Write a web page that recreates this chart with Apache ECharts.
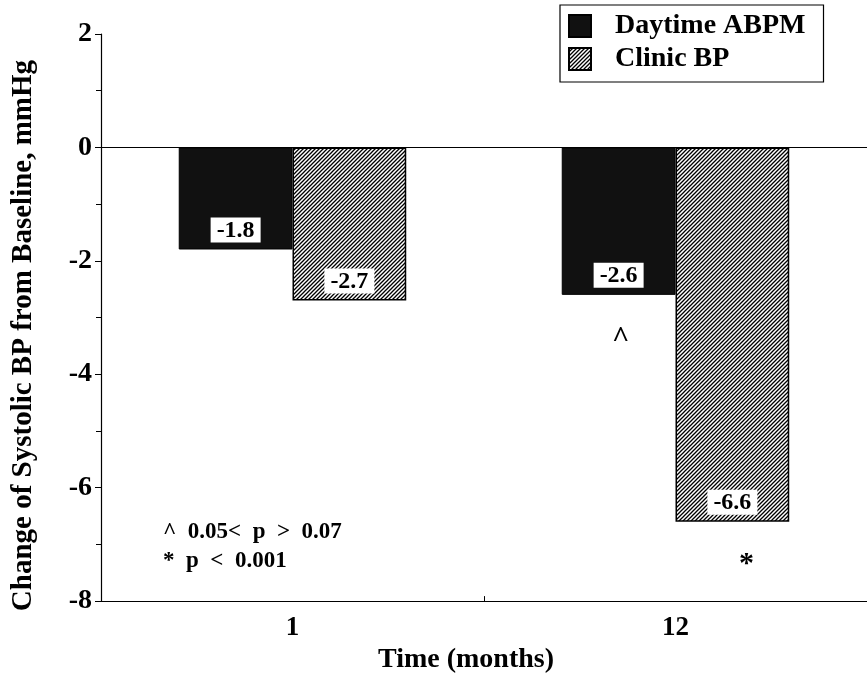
<!DOCTYPE html>
<html><head><meta charset="utf-8">
<script src="https://cdn.jsdelivr.net/npm/echarts@6/dist/echarts.min.js"></script>
<style>html,body{margin:0;padding:0;background:#fff}#c{width:867px;height:679px}</style>
</head><body><div id="c"></div>
<script>
const categories = ['1', '12'];
const daytimeABPM = [-1.8, -2.6];
const clinicBP = [-2.7, -6.6];
const yMin = -8, yMax = 2, yStep = 2;
const caretMark = ['12', -3.2];
const starMark = ['12', -7.28];
const noteLines = ['^  0.05<  p  >  0.07', '*  p  <  0.001'];

const F = '"Liberation Serif", "Times New Roman", serif';

function hatch() {
  const s = 4;
  const c = document.createElement('canvas');
  c.width = s; c.height = s;
  const g = c.getContext('2d');
  g.fillStyle = '#fff'; g.fillRect(0, 0, s, s);
  g.strokeStyle = '#000'; g.lineWidth = 1.3;
  g.beginPath();
  g.moveTo(-1, s + 1); g.lineTo(s + 1, -1);
  g.moveTo(-1, 1); g.lineTo(1, -1);
  g.moveTo(s - 1, s + 1); g.lineTo(s + 1, s - 1);
  g.stroke();
  return c;
}
const hatchPattern = { image: hatch(), repeat: 'repeat' };

const barLabel = {
  show: true, position: 'insideBottom', distance: 7,
  backgroundColor: '#fff', color: '#000', padding: [1, 6, 0, 6],
  fontFamily: F, fontWeight: 'bold', fontSize: 24
};

const chart = echarts.init(document.getElementById('c'));
chart.setOption({
  animation: false,
  backgroundColor: '#fff',
  grid: { left: 101, right: 0, top: 34, bottom: 72, containLabel: false },
  legend: {
    orient: 'vertical', left: 560, top: 5,
    padding: [7, 18, 9, 8], itemGap: 5,
    itemWidth: 22, itemHeight: 22,
    borderColor: '#000', borderWidth: 1.2,
    textStyle: { fontFamily: F, fontWeight: 'bold', fontSize: 28, lineHeight: 28, color: '#000', padding: [0, 0, 0, 19] },
    data: [
      { name: 'Daytime ABPM', icon: 'rect' },
      { name: 'Clinic BP', icon: 'rect' }
    ]
  },
  xAxis: {
    type: 'category', data: categories,
    name: 'Time (months)', nameLocation: 'middle', nameGap: 42,
    nameTextStyle: { fontFamily: F, fontWeight: 'bold', fontSize: 28, color: '#000', padding: [0, 36, 0, 0] },
    axisLine: { show: true, onZero: false, lineStyle: { color: '#000', width: 1.2 } },
    axisTick: { show: true, inside: true, length: 5, lineStyle: { color: '#000' } },
    axisLabel: { fontFamily: F, fontWeight: 'bold', fontSize: 27, color: '#000', margin: 13 },
    splitLine: { show: false }
  },
  yAxis: {
    type: 'value', min: yMin, max: yMax, interval: yStep,
    name: 'Change of Systolic BP from Baseline, mmHg', nameLocation: 'middle', nameGap: 63,
    nameTextStyle: { fontFamily: F, fontWeight: 'bold', fontSize: 29, color: '#000', padding: [0, 36, 0, 0] },
    axisLine: { show: true, lineStyle: { color: '#000', width: 1.2 } },
    axisTick: { show: true, length: 6, lineStyle: { color: '#000' } },
    minorTick: { show: true, splitNumber: 2, length: 5, lineStyle: { color: '#000' } },
    axisLabel: { fontFamily: F, fontWeight: 'bold', fontSize: 28, color: '#000', margin: 9 },
    splitLine: { show: false }
  },
  series: [
    {
      name: 'Daytime ABPM', type: 'bar', data: daytimeABPM,
      barWidth: '29.7%', barGap: '0%',
      itemStyle: { color: '#111', borderColor: '#000', borderWidth: 1 },
      label: Object.assign({}, barLabel, { formatter: p => p.value.toFixed(1) }),
      markLine: {
        silent: true, symbol: 'none',
        label: { show: false },
        lineStyle: { color: '#000', width: 1.2, type: 'solid' },
        data: [{ yAxis: 0 }]
      },
      markPoint: {
        symbol: 'circle', symbolSize: 0,
        label: { show: true, formatter: '^', fontFamily: F, fontWeight: 'bold', fontSize: 30, color: '#000', offset: [2, 10] },
        data: [{ coord: caretMark }]
      }
    },
    {
      name: 'Clinic BP', type: 'bar', data: clinicBP,
      barWidth: '29.7%', barGap: '0%',
      itemStyle: { color: hatchPattern, borderColor: '#000', borderWidth: 1.5 },
      label: Object.assign({}, barLabel, { formatter: p => p.value.toFixed(1) }),
      markPoint: {
        symbol: 'circle', symbolSize: 0,
        label: { show: true, formatter: '*', fontFamily: F, fontWeight: 'bold', fontSize: 30, color: '#000', offset: [14, 4] },
        data: [{ coord: starMark }]
      }
    }
  ],
  graphic: [
    { type: 'text', left: 163, top: 521, style: { text: noteLines[0], font: 'bold 23px ' + F, fill: '#000' } },
    { type: 'text', left: 163, top: 550, style: { text: noteLines[1], font: 'bold 23px ' + F, fill: '#000' } }
  ]
});
</script></body></html>
